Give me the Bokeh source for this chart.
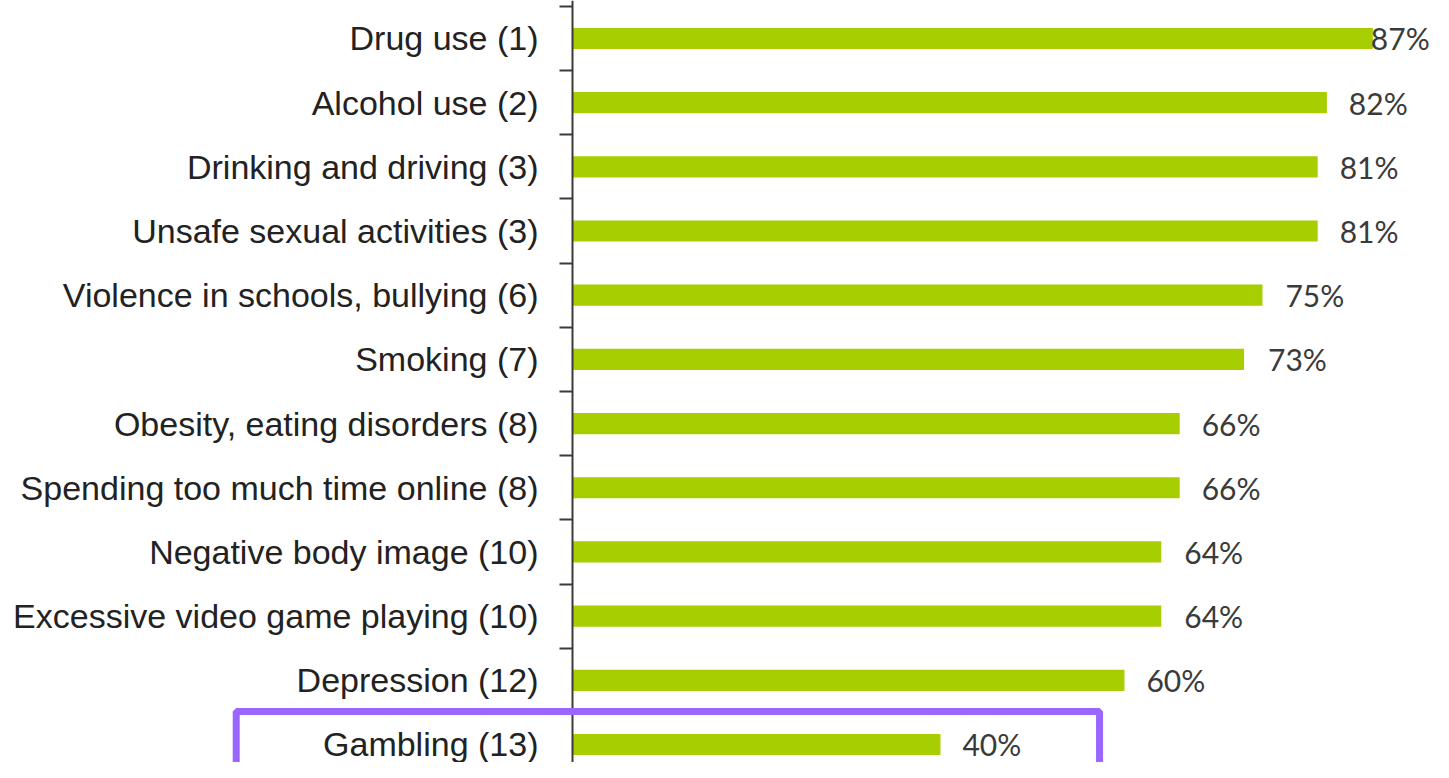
from bokeh.plotting import figure
from bokeh.models import Range1d, LinearAxis, FixedTicker, ColumnDataSource, BoxAnnotation
from bokeh.core.properties import value
from bokeh.embed import file_html
from bokeh.resources import INLINE

categories = [
    "Drug use (1)",
    "Alcohol use (2)",
    "Drinking and driving (3)",
    "Unsafe sexual activities (3)",
    "Violence in schools, bullying (6)",
    "Smoking (7)",
    "Obesity, eating disorders (8)",
    "Spending too much time online (8)",
    "Negative body image (10)",
    "Excessive video game playing (10)",
    "Depression (12)",
    "Gambling (13)",
]
values = [87, 82, 81, 81, 75, 73, 66, 66, 64, 64, 60, 40]
value_labels = [f"{v}%" for v in values]

# label nudges (px) to the right of each bar end
label_gap = [-2, 22, 22, 22, 23, 24, 22, 22, 23, 23, 22, 22]

n = len(categories)
positions = [n - 1 - i for i in range(n)]

src = ColumnDataSource(dict(y=positions, v=values, lab=value_labels, gap=label_gap))

p = figure(
    width=1433, height=762,
    x_range=Range1d(-62.17, 93.59),
    y_range=Range1d(-0.281, n - 1 + 0.592),
    x_axis_location=None, y_axis_location=None,
    toolbar_location=None, output_backend="svg",
    min_border=0, outline_line_color=None,
    background_fill_color="white", border_fill_color="white",
)
p.xgrid.visible = False
p.ygrid.visible = False

p.hbar(y="y", left=0, right="v", height=0.33, source=src,
       fill_color="#a6ce00", line_color=None)

p.text(x="v", y="y", text="lab", x_offset="gap", source=src,
       text_font=value("Lato"), text_font_size="30px", text_color="#3a3a3a",
       text_baseline="middle", text_align="left")

# category axis: labels at row centres, tick marks at row boundaries
ax = LinearAxis(
    fixed_location=0,
    ticker=FixedTicker(ticks=positions, minor_ticks=[k + 0.5 for k in range(-1, n)]),
    major_label_overrides={pos: cat for pos, cat in zip(positions, categories)},
    axis_line_color="#3a3a3a", axis_line_width=2,
    major_tick_line_color=None, major_tick_out=0, major_tick_in=0,
    minor_tick_line_color="#3a3a3a", minor_tick_line_width=2,
    minor_tick_out=13, minor_tick_in=0,
    major_label_standoff=21,
    major_label_text_font="Liberation Sans",
    major_label_text_font_size="34px",
    major_label_text_color="#222222",
)
p.add_layout(ax, "left")

# highlight box around the last row
box = BoxAnnotation(left=-36.55, right=57.29, top=0.514, bottom=-1.0,
                    fill_color=None, fill_alpha=0,
                    line_color="#9966ff", line_alpha=1.0, line_width=7)
p.add_layout(box)

open("out.html", "w").write(file_html(p, INLINE))
